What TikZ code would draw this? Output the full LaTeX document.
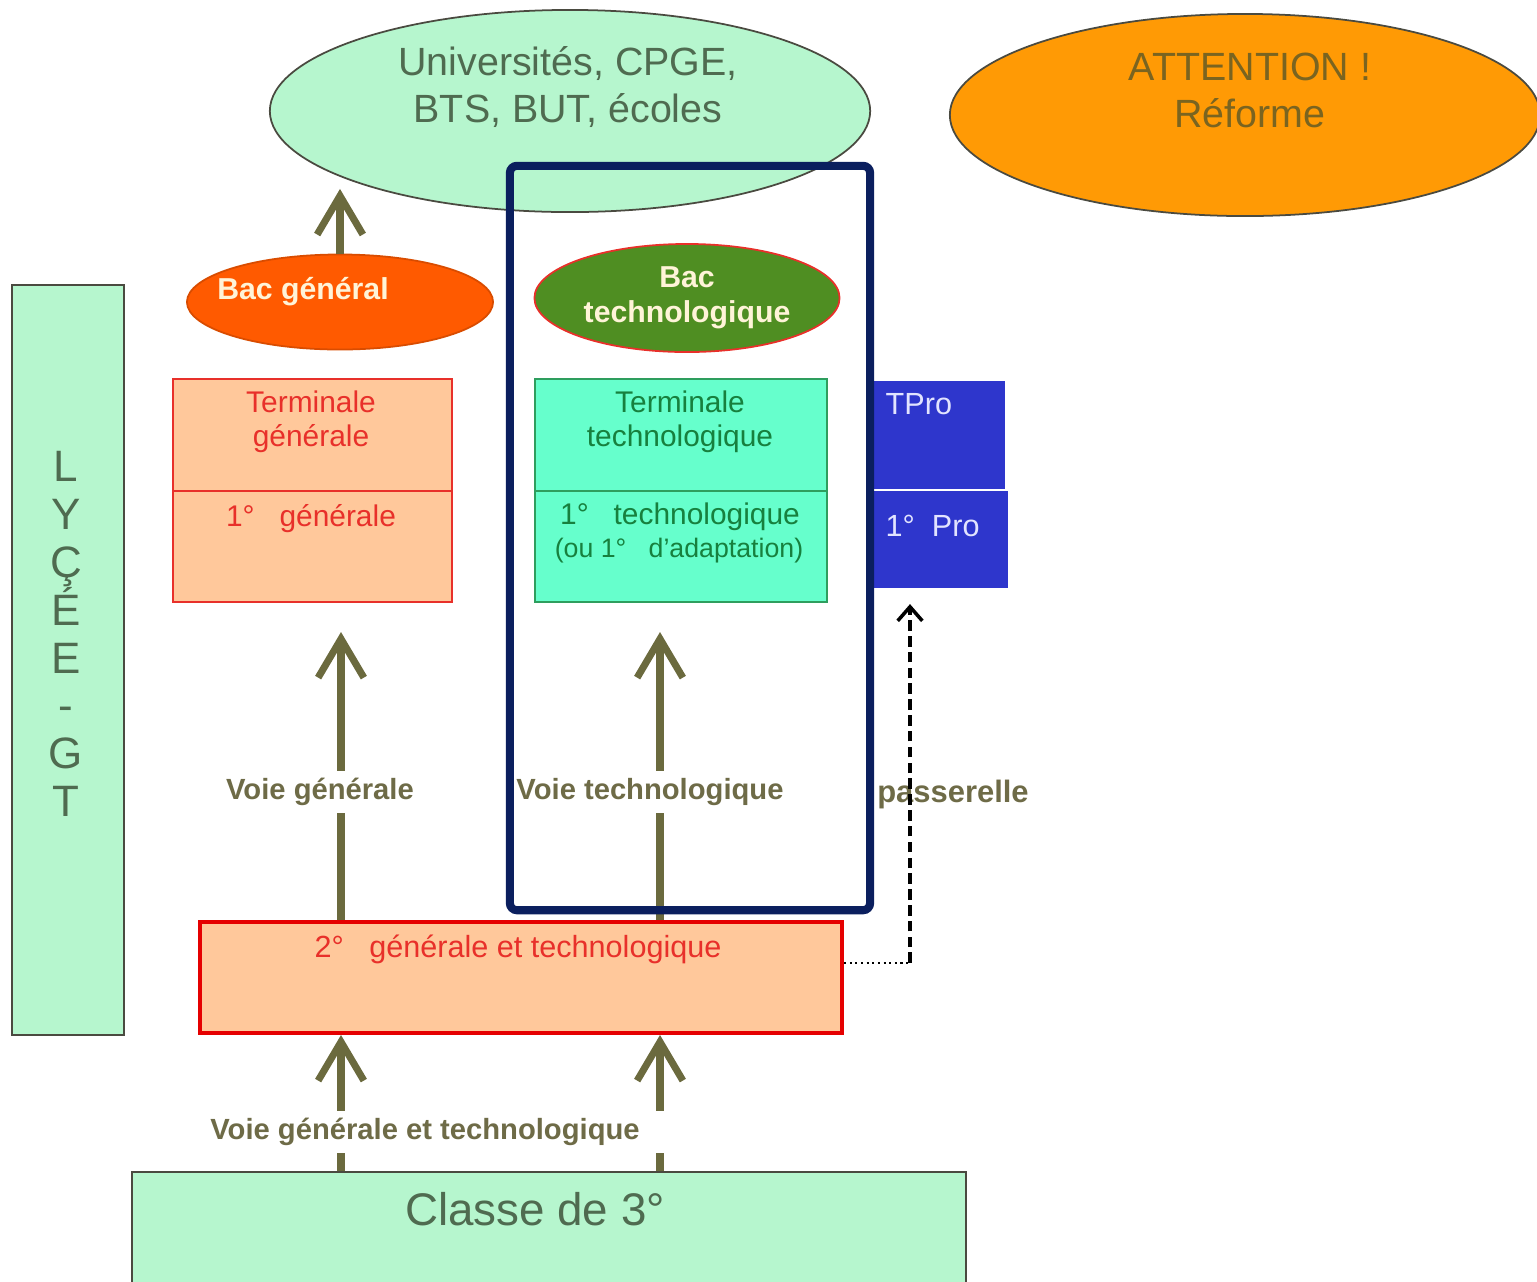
\documentclass[tikz,border=0pt]{standalone}
\usepackage{fontspec}
\setmainfont{Liberation Sans}
\usetikzlibrary{shapes.geometric, arrows.meta}

\definecolor{mint}{HTML}{B6F6CE}
\definecolor{minttxt}{HTML}{4F6B50}
\definecolor{edgegray}{HTML}{4A4A40}
\definecolor{attnfill}{HTML}{FF9A05}
\definecolor{attntxt}{HTML}{7A6420}
\definecolor{bacgfill}{HTML}{FF5A00}
\definecolor{bactfill}{HTML}{4F8E22}
\definecolor{cream}{HTML}{FFF4D8}
\definecolor{peach}{HTML}{FFC89B}
\definecolor{genred}{HTML}{E8302A}
\definecolor{aqua}{HTML}{66FFCC}
\definecolor{aquaedge}{HTML}{2E9E5E}
\definecolor{aquatxt}{HTML}{17803E}
\definecolor{problue}{HTML}{2E36CC}
\definecolor{protxt}{HTML}{E2E4FF}
\definecolor{navy}{HTML}{0B1F5E}
\definecolor{arrowolive}{HTML}{6B6A3E}
\definecolor{voietxt}{HTML}{6E6B47}

\begin{document}
\begin{tikzpicture}[x=0.01cm, y=-0.01cm]

\tikzset{ell/.style = {shape=ellipse, draw=edgegray, line width=0.5pt, inner sep=0pt}}
\tikzset{box/.style = {shape=rectangle, line width=0.6pt, inner sep=0pt}}
\tikzset{bigarrow/.style = {draw=arrowolive, line width=2pt, -{Straight Barb[length=11pt,width=13pt]}}}
\tikzset{voie/.style = {text=voietxt, font=\bfseries\fontsize{8.3}{10}\selectfont, fill=white, inner sep=2pt}}
\tikzset{gentxt/.style = {text=genred, align=center, font=\fontsize{8.5}{9.7}\selectfont}}
\tikzset{techtxt/.style = {text=aquatxt, align=center, font=\fontsize{8.5}{9.7}\selectfont}}

\useasboundingbox (0,0) rectangle (1537,1281);
\clip (0,0) rectangle (1537,1281);

%ellipses
\node[ell, fill=mint, minimum width=6cm, minimum height=2.02cm] (univ) at (570,111) {};
\node[text=minttxt, align=center, font=\fontsize{11.2}{13.1}\selectfont] (univtxt) at (568,87) {Universités, CPGE,\\BTS, BUT, écoles};
\node[ell, fill=attnfill, minimum width=5.9cm, minimum height=2.02cm] (attn) at (1245,115) {};
\node[text=attntxt, align=center, font=\fontsize{11.2}{13.4}\selectfont] (attntxt) at (1250,90) {ATTENTION !\\Réforme};
\node[ell, fill=bacgfill, draw=bacgfill!85!black, minimum width=3.06cm, minimum height=0.95cm] (bacg) at (340,302) {};
\node[text=cream, font=\bfseries\fontsize{8.6}{10}\selectfont] (bacgtxt) at (303,292) {Bac général};
\node[ell, fill=bactfill, draw=genred, minimum width=3.05cm, minimum height=1.08cm, text=cream, align=center, font=\bfseries\fontsize{8.6}{10}\selectfont] (bact) at (687,298) {Bac\\technologique};

%boxes
\node[box, draw=edgegray, fill=mint, minimum width=1.12cm, minimum height=7.49cm] (lycee) at (68,660) {};
\node[text=minttxt, align=center, font=\fontsize{12.5}{13.6}\selectfont] (lyceetxt) at (66,634) {L\\Y\\Ç\\É\\E\\-\\G\\T};

\node[box, draw=genred, fill=peach, minimum width=2.79cm, minimum height=1.12cm] (tg) at (312.5,435) {};
\node[box, draw=genred, fill=peach, minimum width=2.79cm, minimum height=1.11cm] (pg) at (312.5,546.5) {};
\node[gentxt] (tgtxt) at (311,422) {Terminale\\générale};
\node[gentxt] (pgtxt) at (311,519) {1°\ \ \ générale};

\node[box, draw=aquaedge, fill=aqua, minimum width=2.92cm, minimum height=1.12cm] (tt) at (681,435) {};
\node[box, draw=aquaedge, fill=aqua, minimum width=2.92cm, minimum height=1.11cm] (pt) at (681,546.5) {};
\node[techtxt] (tttxt) at (680,422) {Terminale\\technologique};
\node[techtxt] (pttxt) at (680,517) {1°\ \ \ technologique};
\node[techtxt, font=\fontsize{7.6}{9}\selectfont] (adapttxt) at (679,551) {(ou 1°\ \ \ d'adaptation)};

\node[box, fill=problue, minimum width=1.32cm, minimum height=1.08cm] (tpro) at (939,435) {};
\node[box, fill=problue, minimum width=1.35cm, minimum height=0.97cm] (pro1) at (940.5,539.5) {};
\node[text=protxt, anchor=west, inner sep=0pt, font=\fontsize{8.7}{10}\selectfont] (tprotxt) at (885,404) {TPro};
\node[text=protxt, anchor=west, inner sep=0pt, font=\fontsize{8.7}{10}\selectfont] (pro1txt) at (885,526) {1°\ \ Pro};

\node[box, draw=red!90!black, line width=1.1pt, fill=peach, minimum width=6.42cm, minimum height=1.11cm] (sec) at (521,977.5) {};
\node[gentxt, font=\fontsize{8.7}{10}\selectfont] (sectxt) at (518,949) {2°\ \ \ générale et technologique};

\node[box, draw=edgegray, fill=mint, minimum width=8.34cm, minimum height=1.4cm] (cl3) at (549,1242) {};
\node[text=minttxt, font=\fontsize{13}{15}\selectfont] (cl3txt) at (535,1209) {Classe de 3°};

%arrows
\coordinate (colg) at (341,632);
\coordinate (colt) at (660,632);
\draw[bigarrow, shorten >=-0.24cm] (bacg) -- (bacg |- univ.south);
\draw[bigarrow] (sec.north -| colg) -- (colg);
\draw[bigarrow] (sec.north -| colt) -- (colt);
\draw[bigarrow] (cl3.north -| colg) -- (sec.south -| colg);
\draw[bigarrow] (cl3.north -| colt) -- (sec.south -| colt);
\node[voie] (vgtxt) at (320,792) {Voie générale};
\node[voie] (vttxt) at (650,792) {Voie technologique};
\node[voie, minimum width=4.8cm] (vgttxt) at (425,1132) {Voie générale et technologique};

%frame
\node[draw=navy, line width=2.3pt, rounded corners=2pt, minimum width=3.6cm, minimum height=7.44cm, inner sep=0pt] (focus) at (690,538) {};

%passerelle
\node[text=voietxt, font=\bfseries\fontsize{8.8}{10}\selectfont] (passtxt) at (953,794) {passerelle};
\coordinate (pass) at (910,963);
\draw[densely dotted, line width=0.6pt] (sec.east |- pass) -- (pass);
\draw[line width=1pt, dash pattern=on 3pt off 1.5pt, -{Straight Barb[length=4pt,width=7pt]}, shorten >=0.15cm] (pass) -- (pass |- pro1.south);

\end{tikzpicture}
\end{document}
